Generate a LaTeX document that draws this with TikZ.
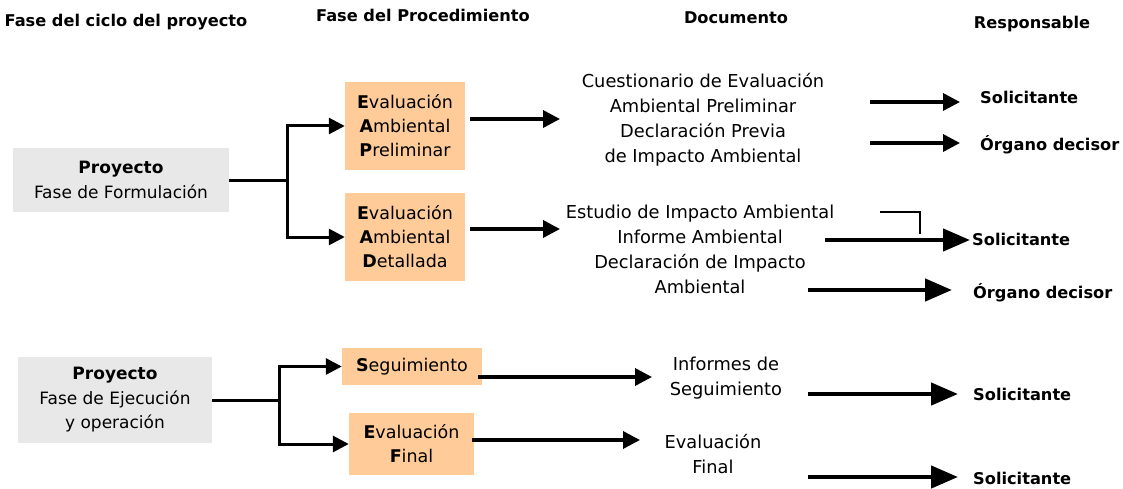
\documentclass[tikz,border=0pt]{standalone}
\usepackage{fontspec}
\setmainfont{DejaVu Sans}
\usetikzlibrary{arrows.meta}
\definecolor{proc_fill}{RGB}{255,204,153}
\definecolor{phase_fill}{RGB}{232,232,232}
\begin{document}
\begin{tikzpicture}[x=1pt,y=-1pt,
	head_node/.style={font=\bfseries\fontsize{16.2}{19}\selectfont,inner sep=0pt},
	phase_node/.style={fill=phase_fill,align=center,inner sep=0pt,font=\fontsize{17}{24.5}\selectfont},
	proc_node/.style={fill=proc_fill,align=center,inner sep=0pt,font=\fontsize{17.5}{24}\selectfont},
	doc_node/.style={align=center,inner sep=0pt,font=\fontsize{17.8}{25}\selectfont},
	resp_node/.style={anchor=west,inner sep=0pt,font=\bfseries\fontsize{16.2}{19}\selectfont},
	link/.style={line width=3pt},
	branch/.style={line width=3pt,-{Triangle[length=16pt,width=16pt]}},
	arrow/.style={line width=3.5pt,-{Triangle[length=17pt,width=17pt]}},
	big_arrow/.style={line width=4.5pt,-{Triangle[length=27pt,width=22pt]}}]
		
		\useasboundingbox (0,0) rectangle (1123,489);
		
		% headers
		\node[head_node] (h1) at (126,22) {Fase del ciclo del proyecto};
		\node[head_node] (h2) at (423,15) {Fase del Procedimiento};
		\node[head_node] (h3) at (736,18) {Documento};
		\node[head_node] (h4) at (1032,24) {Responsable};
		
		% formulation
		\node[phase_node,minimum width=216pt,minimum height=64pt] (p1) at (121,180) {\textbf{Proyecto}\\Fase de Formulación};
		\node[proc_node,minimum width=120pt,minimum height=88pt] (eap) at (405,126) {\textbf{E}valuación\\\textbf{A}mbiental\\\textbf{P}reliminar};
		\node[proc_node,minimum width=120pt,minimum height=88pt] (ead) at (405,237) {\textbf{E}valuación\\\textbf{A}mbiental\\\textbf{D}etallada};
		\node[doc_node] (d1) at (703,119.5) {Cuestionario de Evaluación\\Ambiental Preliminar\\Declaración Previa\\de Impacto Ambiental};
		\node[doc_node] (d2) at (700,249.5) {Estudio de Impacto Ambiental\\Informe Ambiental\\Declaración de Impacto\\Ambiental};
		\node[resp_node] (r1) at (980,97) {Solicitante};
		\node[resp_node] (r2) at (980,145) {Órgano decisor};
		\node[resp_node] (r3) at (972,239) {Solicitante};
		\node[resp_node] (r4) at (973,293) {Órgano decisor};
		
		\coordinate (j1) at (287,180);
		\draw[link] (p1.east) -- (j1);
		\draw[branch] (j1) |- (eap.west);
		\draw[branch] (j1) |- (ead.west);
		\coordinate (e1) at (560,119);
		\coordinate (e2) at (560,229);
		\draw[arrow] ([xshift=5pt]eap.east |- e1) -- (e1);
		\draw[arrow] ([xshift=5pt]ead.east |- e2) -- (e2);
		\coordinate (a1) at (870,102);
		\coordinate (a2) at (870,143);
		\coordinate (a3) at (825,240);
		\coordinate (a4) at (808,290);
		\draw[arrow] (a1) -- ([xshift=-20pt]r1.west |- a1);
		\draw[arrow] (a2) -- ([xshift=-20pt]r2.west |- a2);
		\draw[big_arrow] (a3) -- ([xshift=-2pt]r3.west |- a3);
		\draw[big_arrow] (a4) -- ([xshift=-21pt]r4.west |- a4);
		\draw[line width=2pt] (880,212) -| (920,234);
		
		% execution
		\node[phase_node,minimum width=194pt,minimum height=86pt] (p2) at (115,400) {\textbf{Proyecto}\\Fase de Ejecución\\y operación};
		\node[proc_node,minimum width=140pt,minimum height=37pt] (seg) at (412,366.5) {\textbf{S}eguimiento};
		\node[proc_node,minimum width=125pt,minimum height=62pt] (ef) at (411.5,444) {\textbf{E}valuación\\\textbf{F}inal};
		\node[doc_node] (d3) at (726,378) {Informes de\\Seguimiento};
		\node[doc_node] (d4) at (713,454.5) {Evaluación\\Final};
		\node[resp_node] (r5) at (973,394) {Solicitante};
		\node[resp_node] (r6) at (973,478) {Solicitante};
		
		\coordinate (j2) at (279,400);
		\draw[link] (p2.east) -- (j2);
		\draw[branch] (j2) |- (seg.west);
		\draw[branch] (j2) |- (ef.west);
		\coordinate (e3) at (652,377);
		\coordinate (e4) at (640,440);
		\draw[arrow] ([xshift=-4pt]seg.east |- e3) -- (e3);
		\draw[arrow] ([xshift=-2pt]ef.east |- e4) -- (e4);
		\coordinate (a5) at (808,394);
		\coordinate (a6) at (808,477);
		\draw[big_arrow] (a5) -- ([xshift=-15pt]r5.west |- a5);
		\draw[big_arrow] (a6) -- ([xshift=-15pt]r6.west |- a6);
		
		\end{tikzpicture}
\end{document}
